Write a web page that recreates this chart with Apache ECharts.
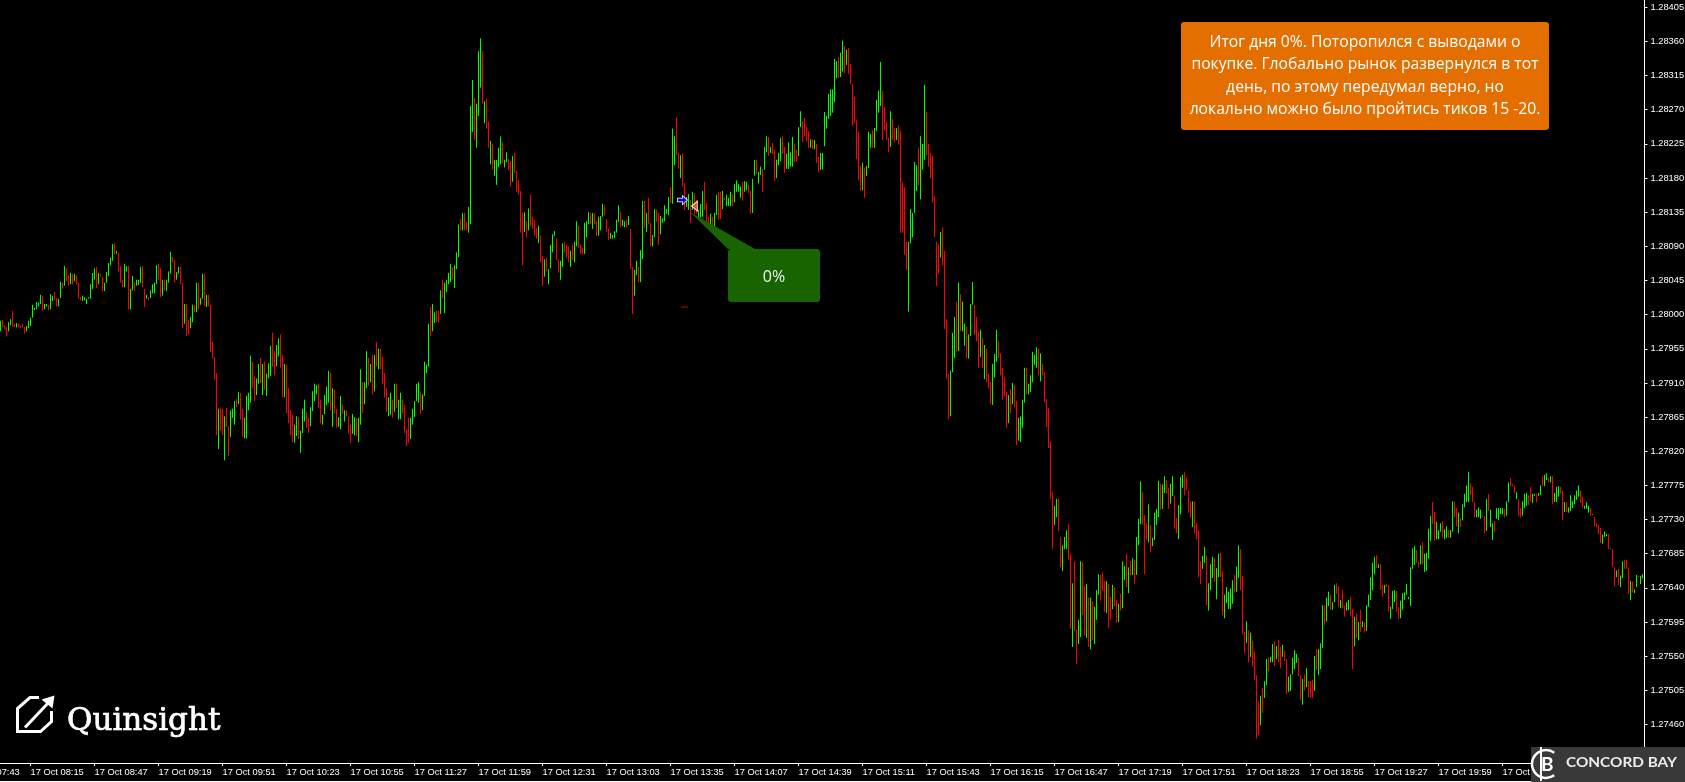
<!DOCTYPE html>
<html><head><meta charset="utf-8">
<style>html,body{margin:0;padding:0;background:#000;overflow:hidden}#c{width:1685px;height:782px}</style>
<script src="https://cdn.jsdelivr.net/npm/echarts@6/dist/echarts.min.js"></script>
</head><body><div id="c"></div>
<script>
// Every block is a flat list of open,close pairs for one-minute bars, in points above priceBase.
const priceBase = 1.27;
const bars0800 = [978,992,993,983,986,980,984,971,978,990,986,994,1005,984,988,984,983,989,988,983,986,983,988,983,984,975,978,985,982,992,985,996,996,1013,1006,1009,1007,1017,1011,1016,1014,1026,1025,1005,1007,1014,1011,1014,1013,1006,1007,1027,1018,1025,1030,1019,1022,1011,1011,1021,1022,1043,1042,1034,1038,1064,1061,1044,1052,1038,1040,1055,1054,1040,1044,1054,1052,1040,1042,1021,1023,1019,1018,1025,1019,1023,1014,1021,1021,1023,1021,1040,1034,1055,1046,1061,1063,1035,1040,1055,1054,1050,1050,1031,1031,1042,1042,1056,1051,1068,1065,1075,1071,1093,1094,1079,1080,1084,1081,1057,1064,1042,1046,1036,1036,1067,1057,1064,1064,1007,1007,1034,1032,1051,1043,1031,1038,1046,1039,1046,1042,1063,1064,1036,1034,1010,1021,1026,1023,1019,1022,1032,1028,1040,1028,1042,1040,1065,1067,1046,1061,1023,1025,1046,1046,1032,1031,1046,1042,1057,1054,1083,1076,1069,1072,1042,1046,1056,1054,1063,1063,1040,1042,982,988,1014,1014,972,993,974,982,997,990,1013,1013,1003,1003,1042,1042,1007,1013,1022,1021,1054,1054,1011,1010,1026,1026,1011,1013,951,964,942,944,914,923,841,823,876,878,847,876,841,808,866,877,852,853,814,839,874,864,876,855,886,889,878,882,898];
const bars1000 = [897,862,876,839,837,864,837,893,874,897,884,946,938,903,918,886,894,916,909,935,943,910,894,935,938,901,893,922,916,936,919,959,976,931,952,920,932,960,945,969,974,930,947,891,891,935,934,870,903,857,874,841,868,832,831,855,840,866,865,836,818,847,844,876,859,888,872,851,864,844,853,878,873,899,886,909,895,907,909,877,888,857,855,868,869,894,881,905,884,926,924,874,852,903,901,870,876,851,852,865,849,893,882,869,859,874,874,866,866,843,855,831,843,869,841,865,864,840,832,864,855,928,911,870,882,911,903,952,943,906,911,935,947,895,899,947,964,932,928,955,955,928,944,909,923,891,903,872,866,891,868,897,888,864,872,909,909,877,862,888,862,897,888,870,881,844,848,827,864,831,836,864,855,876,865,886,886,909,884,911,899,869,874,895,893,938,923,934,932,988,1010,972,978,1014,989,1003,1005,990,1005,990];
const bars1140 = [1001,1032,1046,1022,1002,1042,1030,1046,1040,1055,1043,1067,1063,1046,1035,1065,1060,1082,1076,1119,1126,1111,1111,1134,1134,1111,1122,1111,1108,1142,1119,1275,1241,1309,1285,1230,1220,1278,1262,1347,1299,1364,1347,1278,1252,1281,1284,1245,1254,1220,1198,1229,1225,1191,1183,1204,1171,1204,1194,1220,1198,1235,1227,1200,1194,1204,1201,1214,1205,1191,1202,1169,1175,1209,1213,1187,1189,1162,1177,1158,1163,1108,1134,1065,1109,1135,1123,1102,1111,1140,1158,1117,1129,1113,1125,1104,1114,1100,1094,1117,1104,1069,1077,1038,1050,1073,1075,1057,1040,1060,1061,1092,1082,1106,1104,1110,1100,1072,1073,1055,1046,1071,1063,1094,1096,1082,1092,1075,1090,1069,1063,1084,1092,1072,1069,1096,1090,1123,1117,1088,1092,1080,1088,1079,1080,1121,1102,1123,1119,1135,1134,1119,1113,1134,1134,1119,1123,1104,1104,1129,1111,1130,1129,1146,1144,1131,1126,1109,1113,1098,1100,1108,1100,1105,1101,1110,1108,1125,1122,1144,1135,1115,1117,1125,1115,1123,1125,1115,1118,1130,1113,1060,1063,1001,1025,1059,1052,1071,1063,1043,1043,1085,1073,1150,1150,1114,1109,1134,1154,1119,1121,1090,1090,1105,1102,1139,1138,1122,1134,1092,1106,1130,1121,1127,1123,1144,1133,1139,1131,1155,1168,1147,1146,1245,1197,1235,1260,1210,1213,1192];
const bars1340 = [1180,1210,1212,1169,1173,1138,1142,1155,1138,1159,1151,1121,1138,1162,1160,1133,1151,1133,1125,1138,1128,1146,1129,1163,1175,1138,1147,1120,1129,1120,1114,1133,1129,1114,1114,1134,1131,1158,1162,1125,1162,1126,1139,1163,1154,1151,1143,1158,1143,1154,1143,1162,1159,1143,1148,1172,1162,1177,1162,1172,1154,1169,1175,1150,1162,1176,1164,1175,1171,1160,1163,1133,1134,1179,1183,1204,1204,1185,1173,1188,1184,1195,1192,1162,1191,1221,1214,1235,1234,1209,1213,1221,1226,1212,1217,1176,1180,1204,1197,1213,1202,1233,1235,1212,1221,1187,1192,1212,1192,1227,1195,1214,1195,1234,1225,1201,1217,1202,1209,1247,1247,1268,1255,1227,1259,1235,1247,1229,1242,1220,1220,1231,1231,1218,1218,1230,1225,1200,1208,1188,1191,1213,1191,1213,1222,1267,1245,1262,1258,1291,1262,1297,1266,1297,1280,1337,1312,1334,1339,1312,1313,1345,1320,1361,1354,1318,1329,1349,1351,1317,1330,1304,1304,1249,1287,1252,1256,1205,1241,1177,1196,1163,1164,1200,1194,1154,1183,1196,1193,1241,1220,1238,1243,1220,1220,1246,1242,1283,1266,1295,1275,1333,1295,1230,1274,1243,1254,1230,1233,1214,1221,1268,1258,1230,1246,1227,1230,1246,1249,1224];
const bars1530 = [1242,1108,1174,1108,1168,1079,1096,1059,1004,1096,1094,1139,1102,1134,1134,1201,1163,1197,1220,1170,1152,1235,1191,1225,1204,1303,1267,1210,1225,1195,1213,1180,1209,1148,1156,1102,1096,1038,1093,1054,1075,1109,1115,1065,1084,981,994,916,922,862,866,926,924,976,943,997,1017,951,952,1042,1027,978,978,1017,959,988,984,942,942,974,972,1014,1013,1043,1013,973,997,965,977,930,944,980,969,930,915,960,955,911,922,903,911,882,881,935,917,948,938,980,965,943,949,920,930,888,918,893,898,851,857,894,902,870,882,910,907,878,886,828,834,864,832,866,851,888,884,930,930,895,895,909,898,920,911,951,934,947,930,957,955,920,912,949,935,920,924,884,889,852,877,824,833,757,766,691,723,748,733,757,757,715,707,667,662,696,691,707,691,716,724,677,685,586,562,646,675,583,585,540,566,598,575,675,674,604,642,577,574,645,627,562,559,627,622,571,566,615,598,637,631,658,657,623,660,636,649,608,607,649,645,587,628,598,612,644,641,616,624,594,595,619,632,610,613,675,650,669,685,641,633,667,675,656,657,679,677,645,657,707,696,731];
const bars1730 = [724,780,766,723,736,658,725,703,700,750,723,687,695,706,703,739,723,744,733,781,777,743,744,776,765,787,782,764,772,744,751,777,761,787,762,718,732,712,704,749,737,786,772,789,793,762,785,769,768,739,754,732,720,754,754,712,725,704,716,654,675,645,665,682,673,694,683,617,610,646,637,671,653,681,679,648,625,666,654,685,686,654,662,604,600,631,620,641,612,635,612,639,619,650,657,633,635,668,653,696,691,637,656,579,582,554,567,596,584,542,549,581,570,536,556,519,525,441,490,446,459,498,508,475,495,517,512,546,548,530,542,549,542,566,570,537,546,563,571,542,562,534,549,565,557,544,546,500,503,523,504,526,526,548,533,558,541,553,548,524,525,492,486,520,526,505,509,534,517,496,517,496,519,495,504,550,559,532,525,559,533,567,561,617,617,591,596,627,616,635,631,611,611,621,621,644,646,632,642,615,613,624,637,613,617,602,610,621,611,624,628,603,612,533,563,602,606,574,571,595,611,582,588,596,595,581,583,617,615,631,624,654,637,673,658,681,683,666,666,671];
const bars1930 = [671,637,644,628,633,644,645,641,644,609,599,615,612,636,621,637,636,609,615,599,600,623,611,633,624,634,631,645,625,628,616,667,665,692,670,695,690,673,674,667,671,696,700,671,661,685,662,686,679,718,702,735,753,724,740,702,704,727,704,716,714,725,728,706,704,717,706,721,716,706,706,716,714,754,754,733,745,721,712,739,732,720,729,750,746,764,753,775,753,793,778,762,773,753,753,733,733,743,733,746,731,743,735,733,735,712,715,757,764,741,720,743,703,725,728,714,731,745,729,745,737,745,737,745,744,733,735,754,753,779,785,774,777,774,775,765,757,766,757,735,745,733,735,754,745,764,748,765,762,749,773,754,752,764,761,764,764,753,761,765,762,775,787,774,774,789,782,791,785,779,779,787,787,750,753,765,753,773,760,774,773,764,768,729,740,753,753,740,739,746,741,762,745,754,750,762,756,768,760,775,768,752,760,745,744,748,744,753,739,748,745,735,736,737,733,721,725,720,723,711,719,699,698,710,707,714,708,711,711,691,691,692,691,667,667,642,654,663,665,644,641,656,653,675,677,665,677,665,667,632,624,649,648,634,633,638,641,657,656,654,645,656,653,658];

const xTickLabels = ["17 Oct 07:43","17 Oct 08:15","17 Oct 08:47","17 Oct 09:19","17 Oct 09:51","17 Oct 10:23","17 Oct 10:55","17 Oct 11:27","17 Oct 11:59","17 Oct 12:31","17 Oct 13:03","17 Oct 13:35","17 Oct 14:07","17 Oct 14:39","17 Oct 15:11","17 Oct 15:43","17 Oct 16:15","17 Oct 16:47","17 Oct 17:19","17 Oct 17:51","17 Oct 18:23","17 Oct 18:55","17 Oct 19:27","17 Oct 19:59","17 Oct 20:31"];
const yTicks = [1.28405,1.2836,1.28315,1.2827,1.28225,1.2818,1.28135,1.2809,1.28045,1.28,1.27955,1.2791,1.27865,1.2782,1.27775,1.2773,1.27685,1.2764,1.27595,1.2755,1.27505,1.2746];
const minutesPerLabel = 32;
const leadingEmptyBars = 17;      // minutes between the first (clipped) label and the first drawn bar
const categoryCount = 840;
const entryMark = [[358, 1.28151]];
const exitMark = [[364, 1.28143]];
const dashMark = [[359, 1.2801]];
const noteText = "Итог дня 0%. Поторопился с выводами о\nпокупке. Глобально рынок развернулся в тот\nдень, по этому передумал верно, но\nлокально можно было пройтись тиков 15 -20.";
const resultText = "0%";

const flat = [].concat(bars0800,bars1000,bars1140,bars1340,bars1530,bars1730,bars1930);
const candles = [];
for (let i=0;i<leadingEmptyBars;i++) candles.push('-');
for (let i=0;i<flat.length;i+=2){
  const o=priceBase+flat[i]/1e5, c=priceBase+flat[i+1]/1e5;
  candles.push([o,c,Math.min(o,c),Math.max(o,c)]);
}
const cats = [];
for (let i=0;i<categoryCount;i++){ cats.push(i%minutesPerLabel===0 ? (xTickLabels[i/minutesPerLabel]||'') : ''); }
const isTick = i => i%minutesPerLabel===0;

const chart = echarts.init(document.getElementById('c'),null,{renderer:'canvas',width:1685,height:782});
const lbl = {color:'#fff',fontFamily:'Liberation Sans',fontSize:9.3};
const white = {stroke:'#fff',lineWidth:3,fill:null};
chart.setOption({
  animation:false,
  backgroundColor:'#000',
  grid:{left:-33.5,right:40.5,top:0,bottom:19,containLabel:false,outerBoundsMode:'none'},
  xAxis:{type:'category',data:cats,boundaryGap:false,
    axisLine:{show:true,onZero:false,lineStyle:{color:'#fff',width:1}},
    axisTick:{show:true,length:3,interval:(i)=>isTick(i),lineStyle:{color:'#fff'}},
    axisLabel:Object.assign({show:true,interval:(i)=>isTick(i)&&cats[i]!=='',align:'left',margin:5,showMinLabel:true,hideOverlap:false},lbl),
    splitLine:{show:false}},
  yAxis:{type:'value',position:'right',scale:true,min:1.274092,max:1.284146,
    axisLine:{show:true,lineStyle:{color:'#fff',width:1}},
    axisTick:{show:true,length:3,customValues:yTicks,lineStyle:{color:'#fff'}},
    axisLabel:Object.assign({customValues:yTicks,margin:6,formatter:v=>v.toFixed(5),showMinLabel:true,showMaxLabel:true},lbl),
    splitLine:{show:false}},
  series:[
    {type:'candlestick',data:candles,large:true,largeThreshold:50,barWidth:1,clip:true,
      itemStyle:{color:'#00ff00',color0:'#ff0000',borderColor:'#00ff00',borderColor0:'#ff0000',borderWidth:1}},
    {type:'scatter',data:dashMark,symbol:'rect',symbolSize:[7,1],itemStyle:{color:'#ff0000'},z:5},
    {type:'scatter',data:entryMark,symbol:'path://M0 3H5V0L10 5L5 10V7H0Z',symbolSize:[10,9],itemStyle:{color:'#0000ff',borderColor:'#fff',borderWidth:1},z:6},
    {type:'scatter',data:exitMark,symbol:'path://M0 5L7 0V10Z',symbolSize:[6,10],itemStyle:{color:'#c98a2e',borderColor:'#fff',borderWidth:1},z:6}
  ],
  graphic:{elements:[
    {type:'polygon',z:50,shape:{points:[[690,212],[728,249],[755,249]]},style:{fill:'#176400'}},
    {type:'rect',z:50,shape:{x:728,y:249,width:92,height:53,r:3},style:{fill:'#176400'}},
    {type:'text',z:51,x:774,y:277,style:{text:resultText,fill:'#f2f2f2',font:'16px "Open Sans"',align:'center',verticalAlign:'middle'}},
    {type:'rect',z:50,shape:{x:1181,y:22,width:368,height:108,r:3},style:{fill:'#e56e00'}},
    {type:'text',z:51,x:1365,y:76,style:{text:noteText,fill:'#fff',font:'15.7px "Open Sans"',lineHeight:22.1,align:'center',verticalAlign:'middle'}},
    // Quinsight mark
    {type:'polyline',z:50,shape:{points:[[39,697.5],[30,697.5],[17.5,708.5],[17.5,731.5],[40.5,731.5],[51.5,721.5],[51.5,711]]},style:white},
    {type:'line',z:50,shape:{x1:25,y1:727.5,x2:50,y2:701},style:white},
    {type:'polygon',z:50,shape:{points:[[41.5,699.5],[54.5,695.5],[52.5,708.5]]},style:{fill:'#fff'}},
    {type:'text',z:50,x:67,y:722,style:{text:'Quinsight',fill:'#fff',stroke:'#fff',lineWidth:0.7,font:'31px "DejaVu Serif"',verticalAlign:'middle'}},
    // Concord Bay badge
    {type:'rect',z:60,shape:{x:1531,y:747,width:154,height:35},style:{fill:'#393939'}},
    {type:'arc',z:61,shape:{cx:1546,cy:764,r:14,startAngle:Math.PI*0.3,endAngle:Math.PI*1.7,clockwise:true},style:{stroke:'#fff',lineWidth:2.5,fill:null}},
    {type:'line',z:61,shape:{x1:1541,y1:747,x2:1541,y2:781},style:{stroke:'#fff',lineWidth:2}},
    {type:'text',z:61,x:1541,y:765,style:{text:'B',fill:'#fff',font:'bold 19px Lato',verticalAlign:'middle'}},
    {type:'text',z:61,x:1566,y:763,scaleX:1.18,style:{text:'CONCORD BAY',fill:'#ececec',font:'bold 13px Lato',verticalAlign:'middle'}},
    {type:'rect',z:40,shape:{x:0,y:781,width:1531,height:1},style:{fill:'#fff'}}
  ]}
});
</script></body></html>
